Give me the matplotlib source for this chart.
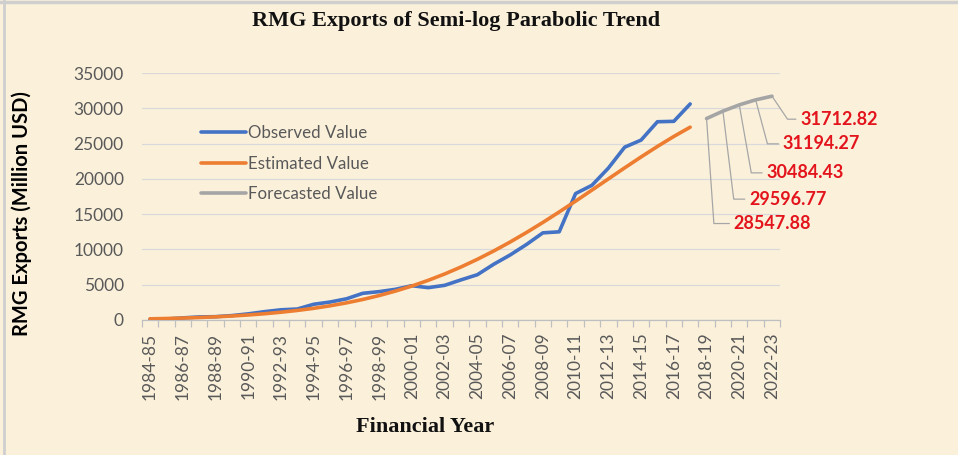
import matplotlib
matplotlib.use("Agg")
import matplotlib.pyplot as plt
from matplotlib.lines import Line2D

# ---------------- data ----------------
years = ["1984-85", "1985-86", "1986-87", "1987-88", "1988-89", "1989-90", "1990-91",
         "1991-92", "1992-93", "1993-94", "1994-95", "1995-96", "1996-97", "1997-98",
         "1998-99", "1999-00", "2000-01", "2001-02", "2002-03", "2003-04", "2004-05",
         "2005-06", "2006-07", "2007-08", "2008-09", "2009-10", "2010-11", "2011-12",
         "2012-13", "2013-14", "2014-15", "2015-16", "2016-17", "2017-18", "2018-19",
         "2019-20", "2020-21", "2021-22", "2022-23"]

observed = [116, 131, 299, 434, 471, 624, 867, 1183, 1445, 1556, 2228, 2547, 3001,
            3782, 4020, 4349, 4860, 4584, 4912, 5686, 6418, 7901, 9211, 10700, 12348,
            12497, 17914, 19090, 21516, 24492, 25491, 28094, 28150, 30615]

estimated = [165, 214, 276, 353, 449, 567, 712, 889, 1101, 1355, 1656, 2011, 2427,
             2910, 3466, 4100, 4817, 5622, 6520, 7514, 8601, 9781, 11049, 12399, 13823,
             15309, 16843, 18410, 19989, 21562, 23104, 24594, 26009, 27323]

forecast = [28547.88, 29596.77, 30484.43, 31194.27, 31712.82]
forecast_labels = ["28547.88", "29596.77", "30484.43", "31194.27", "31712.82"]

# ---------------- figure ----------------
W, H = 958, 455
DPI = 100
BG = "#FBF1DB"
fig = plt.figure(figsize=(W / DPI, H / DPI), dpi=DPI, facecolor=BG)

# light frame on top and left edge
fig.add_artist(Line2D([0, 1], [1 - 2 / H, 1 - 2 / H], transform=fig.transFigure,
                      color="#CFCFCF", lw=2.5))
fig.add_artist(Line2D([4 / W, 4 / W], [0, 1], transform=fig.transFigure,
                      color="#CFCFCF", lw=2.0))

x0, x1 = 141.8, 780.2
ytop, ybot = 73, 320
ax = fig.add_axes([x0 / W, (H - ybot) / H, (x1 - x0) / W, (ybot - ytop) / H])
ax.set_facecolor("none")

n = len(years)
xo = list(range(len(observed)))
xe = list(range(len(estimated)))
xf = list(range(len(observed), len(observed) + len(forecast)))

ax.plot(xo, observed, color="#4472C4", lw=2.6, solid_capstyle="round", zorder=3,
        label="Observed Value")
ax.plot(xe, estimated, color="#ED7D31", lw=2.6, solid_capstyle="round", zorder=3,
        label="Estimated Value")
ax.plot(xf, forecast, color="#A5A5A5", lw=2.6, solid_capstyle="round", zorder=3,
        label="Forecasted Value")

ax.set_xlim(-0.5, n - 0.5)
ax.set_ylim(0, 35000)
ax.set_yticks(range(0, 35001, 5000))
ax.grid(axis="y", color="#D9D9D9", lw=0.9, zorder=0)
ax.set_axisbelow(True)

ax.set_xticks(range(0, n, 2))
ax.set_xticklabels(years[::2], rotation=90)
ax.set_xticks([i - 0.5 for i in range(n + 1)], minor=True)
ax.tick_params(axis="x", which="major", length=0, pad=9, labelsize=12.5,
               labelcolor="#595959")
ax.tick_params(axis="x", which="minor", length=5, color="#BFBFBF", width=0.9)
ax.tick_params(axis="y", length=0, pad=13, labelsize=12.5, labelcolor="#595959")
for lab in ax.get_xticklabels() + ax.get_yticklabels():
    lab.set_fontfamily("Lato")

for s in ["top", "right", "left"]:
    ax.spines[s].set_visible(False)
ax.spines["bottom"].set_color("#BFBFBF")
ax.spines["bottom"].set_linewidth(0.9)

# legend
leg = ax.legend(loc="upper left", frameon=False, handlelength=2.65, handletextpad=0.15,
                labelspacing=0.85, borderaxespad=0.0, borderpad=0.4,
                prop={"family": "Lato", "size": 12.2})
leg.set_bbox_to_anchor(((194 - x0) / (x1 - x0), 1 - (118.5 - ytop) / (ybot - ytop)),
                       transform=ax.transAxes)
for t in leg.get_texts():
    t.set_color("#595959")

# data labels for forecast
offsets_px = [(27, -105), (26, -88), (27, -68), (27, -44), (28, -23)]
leader_angles = [94, 97, 100, 105, 124]
for xi, val, lab, (dx, dy), ang in zip(xf, forecast, forecast_labels, offsets_px,
                                       leader_angles):
    ax.annotate(lab, xy=(xi, val), xytext=(dx, dy), textcoords="offset pixels",
                ha="left", va="center", color="#E3141C", fontsize=13,
                fontweight="bold", family="Lato",
                arrowprops=dict(arrowstyle="-", color="#A6A6A6", lw=0.9,
                                shrinkA=1, shrinkB=0, relpos=(0, 0.5),
                                connectionstyle="angle,angleA=0,angleB=%d,rad=0" % ang))

# titles
fig.text(456 / W, 1 - 21 / H, "RMG Exports of Semi-log Parabolic Trend",
         ha="center", va="center", family="Liberation Serif", fontweight="bold",
         fontsize=16, color="#111111")
fig.text(425 / W, 1 - 427 / H, "Financial Year", ha="center", va="center",
         family="Liberation Serif", fontweight="bold", fontsize=16, color="#111111")
fig.text(22 / W, 1 - 214 / H, "RMG Exports (Million USD)", ha="center", va="center",
         rotation=90, family="Lato", fontweight="bold", fontsize=14.5, color="#000000")

fig.savefig("out.png", dpi=DPI, facecolor=BG)
